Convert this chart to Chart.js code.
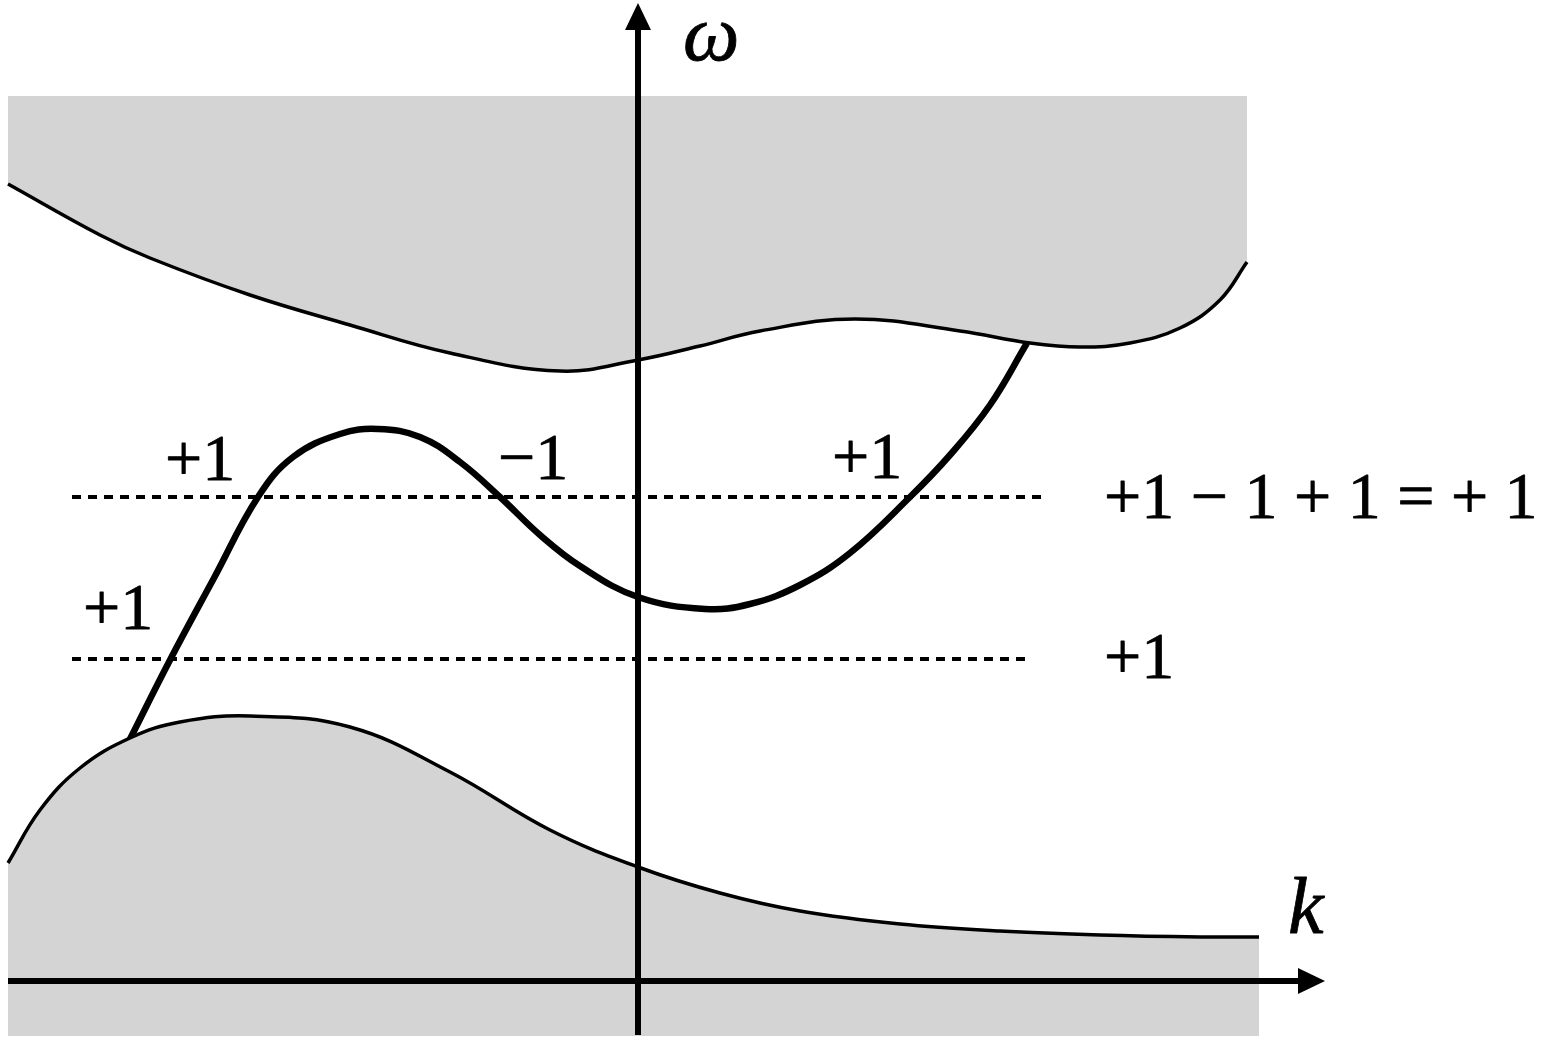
<!DOCTYPE html>
<html>
<head>
<meta charset="utf-8">
<script src="https://cdn.jsdelivr.net/npm/chart.js@4/dist/chart.umd.min.js"></script>
<style>
html,body{margin:0;padding:0;background:#fff;overflow:hidden;}
canvas{display:block;}
</style>
</head>
<body>
<canvas id="c" width="1548" height="1043"></canvas>
<script>
// Upper continuum boundary (k, omega)
const upperK = [-6.30, -5.38, -4.88, -3.88, -2.88, -1.88, -0.78, 0.00, 0.62, 1.22, 2.17, 3.22, 3.92, 4.42, 4.92, 5.42, 5.82, 6.09];
const upperW = [7.97, 7.46, 7.23, 6.86, 6.56, 6.28, 6.10, 6.21, 6.35, 6.50, 6.62, 6.50, 6.38, 6.34, 6.38, 6.53, 6.81, 7.19];
const upperBandTop = 8.85;

// Lower continuum boundary
const lowerK = [-6.30, -5.98, -5.58, -5.08, -4.58, -3.88, -2.88, -1.88, -0.88, 0.00, 0.82, 1.62, 2.62, 3.62, 4.62, 5.62, 6.21];
const lowerW = [1.18, 1.71, 2.13, 2.43, 2.59, 2.65, 2.54, 2.09, 1.51, 1.14, 0.88, 0.70, 0.57, 0.50, 0.46, 0.44, 0.44];
const lowerBandBottom = -0.55;

// Edge-state branch
const midK = [-5.10, -4.68, -4.24, -3.80, -3.45, -2.98, -2.60, -2.18, -1.78, -1.38, -0.98, -0.58, 0.00, 0.67, 1.12, 1.62, 2.12, 2.72, 3.12, 3.52, 3.89];
const midW = [2.38, 3.21, 4.03, 4.84, 5.24, 5.47, 5.52, 5.44, 5.19, 4.84, 4.46, 4.15, 3.84, 3.72, 3.77, 3.96, 4.28, 4.84, 5.26, 5.76, 6.38];

// Dashed frequency levels
const levelW = [4.84, 3.22];
const levelStartK = [-5.66, -5.66];
const levelEndK = [4.08, 3.92];

// Axes extents
const kAxis = [-6.30, 6.87];   // horizontal axis from .. to arrow tip
const wAxis = [-0.54, 9.78];   // vertical axis from .. to arrow tip
const axisLabels = ['k', 'ω'];
const axisLabelK = [6.50, 0.45];
const axisLabelW = [0.48, 9.21];

// Winding-number labels
const countText = ['+1', '\u22121', '+1', '+1', '+1 \u2212 1 + 1 = + 1', '+1'];
const countK = [-4.73, -1.40, 1.94, -5.55, 4.66, 4.66];
const countW = [5.01, 5.02, 5.03, 3.52, 4.63, 3.03];

const pts = (xs, ys) => xs.map((x, i) => ({x: x, y: ys[i]}));
const GRAY = '#d4d4d4';
const SERIF = '"Liberation Serif", "Times New Roman", Times, serif';

const overlay = {
  id: 'overlay',
  afterDatasetsDraw(chart) {
    const ctx = chart.ctx;
    const xs = chart.scales.x, ys = chart.scales.y;
    const X = v => xs.getPixelForValue(v), Y = v => ys.getPixelForValue(v);
    ctx.save();
    ctx.strokeStyle = '#000';
    ctx.fillStyle = '#000';
    ctx.lineWidth = 6;
    ctx.lineCap = 'butt';
    const head = 27, half = 13;
    const x0 = X(0), yTip = Y(wAxis[1]);
    ctx.beginPath();
    ctx.moveTo(x0, Y(wAxis[0]));
    ctx.lineTo(x0, yTip + head - 1);
    ctx.stroke();
    ctx.beginPath();
    ctx.moveTo(x0, yTip);
    ctx.lineTo(x0 - half, yTip + head);
    ctx.lineTo(x0 + half, yTip + head);
    ctx.closePath();
    ctx.fill();
    const y0 = Y(0), xTip = X(kAxis[1]);
    ctx.beginPath();
    ctx.moveTo(X(kAxis[0]), y0);
    ctx.lineTo(xTip - head + 1, y0);
    ctx.stroke();
    ctx.beginPath();
    ctx.moveTo(xTip, y0);
    ctx.lineTo(xTip - head, y0 - half);
    ctx.lineTo(xTip - head, y0 + half);
    ctx.closePath();
    ctx.fill();
    ctx.textAlign = 'left';
    ctx.textBaseline = 'alphabetic';
    ctx.lineWidth = 0.8;
    ctx.lineJoin = 'round';
    ctx.font = 'italic 80px ' + SERIF;
    axisLabels.forEach((t, i) => {
      ctx.fillText(t, X(axisLabelK[i]), Y(axisLabelW[i]));
      ctx.strokeText(t, X(axisLabelK[i]), Y(axisLabelW[i]));
    });
    ctx.font = '66px ' + SERIF;
    countText.forEach((t, i) => {
      ctx.fillText(t, X(countK[i]), Y(countW[i]));
      ctx.strokeText(t, X(countK[i]), Y(countW[i]));
    });
    ctx.restore();
  }
};

function build() {
  new Chart(document.getElementById('c'), {
    type: 'scatter',
    data: {
      datasets: [
        {
          data: pts(upperK, upperW), showLine: true, borderColor: '#000', borderWidth: 3.5,
          backgroundColor: GRAY, fill: {value: upperBandTop}, tension: 0.4, pointRadius: 0
        },
        {
          data: pts(lowerK, lowerW), showLine: true, borderColor: '#000', borderWidth: 3.5,
          backgroundColor: GRAY, fill: {value: lowerBandBottom}, tension: 0.4, pointRadius: 0
        },
        {
          data: pts([levelStartK[0], levelEndK[0]], [levelW[0], levelW[0]]), showLine: true,
          borderColor: '#000', borderWidth: 4, borderDash: [9, 7], fill: false, pointRadius: 0
        },
        {
          data: pts([levelStartK[1], levelEndK[1]], [levelW[1], levelW[1]]), showLine: true,
          borderColor: '#000', borderWidth: 4, borderDash: [9, 7], fill: false, pointRadius: 0
        },
        {
          data: pts(midK, midW), showLine: true, borderColor: '#000', borderWidth: 6.5,
          fill: false, tension: 0.4, pointRadius: 0
        }
      ]
    },
    options: {
      responsive: false,
      devicePixelRatio: 1,
      animation: false,
      layout: {padding: 0},
      plugins: {legend: {display: false}, tooltip: {enabled: false}, title: {display: false}},
      scales: {
        x: {type: 'linear', min: -6.38, max: 9.10, display: false},
        y: {type: 'linear', min: -0.62, max: 9.81, display: false}
      }
    },
    plugins: [overlay]
  });
}

Promise.all([
  document.fonts.load('66px "Liberation Serif"', '+1−'),
  document.fonts.load('italic 80px "Liberation Serif"', 'kω')
]).then(build, build);
</script>
</body>
</html>
